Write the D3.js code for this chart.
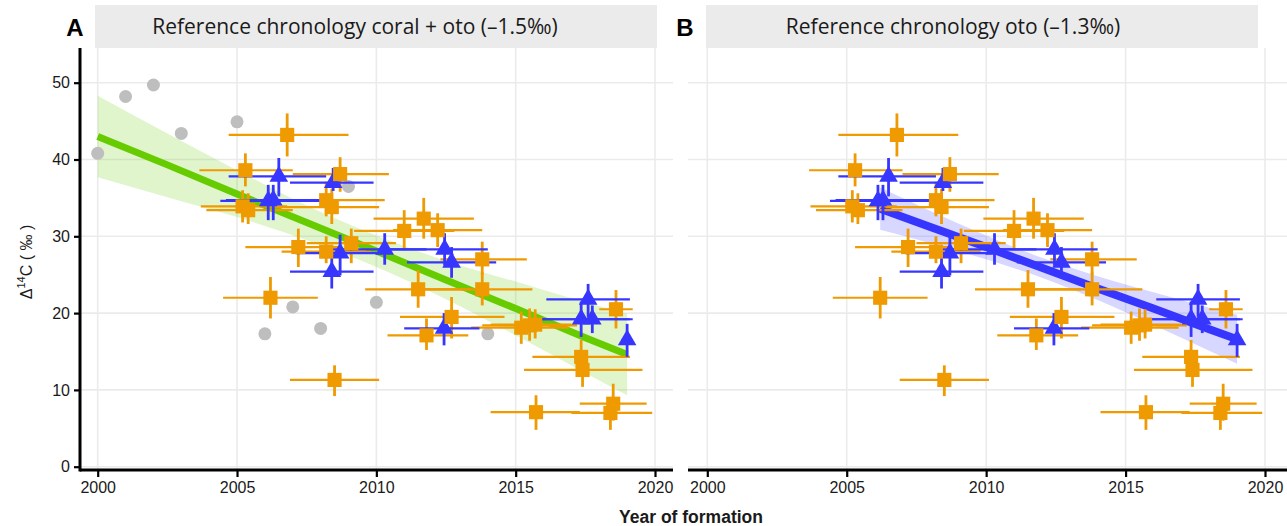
<!DOCTYPE html>
<html>
<head>
<meta charset="utf-8">
<script src="https://cdn.jsdelivr.net/npm/d3@7"></script>
<style>
  html, body { margin: 0; padding: 0; background: #fff; }
  svg { display: block; }
  .tick text { font-family: "Liberation Sans", Arial, sans-serif; font-size: 16px; fill: #1a1a1a; }
</style>
</head>
<body>
<svg id="chart" width="1287" height="526"></svg>
<script>
/*------------------- data --------------------*/
const xTicks = [2000, 2005, 2010, 2015, 2020];
const yTicks = [0, 10, 20, 30, 40, 50];
const panelTitles = ["Reference chronology coral + oto (\u20131.5\u2030)", "Reference chronology oto (\u20131.3\u2030)"];
const panelLetters = ["A", "B"];

// coral reference values (panel A only)
const coralYear = [2000, 2001, 2002, 2003, 2005, 2006, 2007, 2008, 2009, 2010, 2014];
const coralVal  = [40.8, 48.2, 49.7, 43.4, 44.9, 17.3, 20.8, 18.0, 36.5, 21.4, 17.3];

// otolith samples (orange squares)
const otoYear   = [2006.8, 2005.3, 2008.7, 2005.2, 2005.4, 2008.2, 2008.4, 2007.2, 2008.2, 2009.1, 2011.0, 2012.2, 2011.7, 2013.8, 2013.8, 2011.5, 2012.7, 2011.8, 2006.2, 2008.5, 2015.2, 2015.5, 2015.7, 2017.35, 2017.4, 2018.6, 2015.73, 2018.5, 2018.4];
const otoVal    = [43.2, 38.6, 38.1, 33.9, 33.4, 34.7, 33.8, 28.6, 28.0, 29.1, 30.7, 30.8, 32.3, 27.0, 23.1, 23.1, 19.5, 17.1, 22.0, 11.3, 18.1, 18.4, 18.5, 14.3, 12.6, 20.5, 7.1, 8.2, 7.0];
const otoYearLo = [2004.7, 2003.65, 2007.0, 2003.7, 2003.9, 2006.2, 2006.4, 2005.3, 2006.6, 2007.5, 2009.2, 2010.6, 2009.9, 2012.3, 2011.7, 2009.6, 2010.85, 2010.4, 2004.5, 2006.9, 2013.4, 2013.8, 2014.1, 2015.6, 2015.3, 2018.0, 2014.1, 2017.3, 2017.0];
const otoYearHi = [2009.0, 2007.0, 2010.45, 2006.8, 2007.0, 2010.3, 2010.1, 2008.7, 2009.8, 2010.7, 2012.8, 2013.8, 2013.5, 2015.4, 2015.6, 2013.4, 2014.6, 2013.3, 2007.9, 2010.1, 2016.9, 2017.2, 2017.0, 2019.1, 2019.55, 2019.2, 2017.3, 2019.7, 2019.9];
const otoValLo  = [40.4, 36.5, 35.8, 31.8, 31.6, 32.6, 31.6, 26.0, 26.5, 26.5, 28.2, 28.6, 29.7, 25.0, 21.0, 20.7, 16.7, 15.2, 19.3, 9.2, 16.0, 16.4, 16.7, 12.3, 10.4, 18.0, 4.8, 6.0, 4.8];
const otoValHi  = [46.0, 40.8, 40.3, 36.0, 35.6, 37.1, 36.2, 31.0, 30.0, 31.0, 33.4, 33.0, 35.0, 29.3, 25.3, 25.6, 22.1, 19.3, 24.7, 13.2, 20.2, 20.6, 20.5, 16.5, 14.8, 23.0, 9.3, 10.8, 9.0];

// otolith samples (blue triangles)
const triYear   = [2006.5, 2006.12, 2006.3, 2008.45, 2008.7, 2008.4, 2010.3, 2012.45, 2012.7, 2012.43, 2017.6, 2017.35, 2017.75, 2019.0];
const triVal    = [37.8, 34.6, 34.7, 37.0, 27.8, 25.4, 28.3, 28.3, 26.6, 18.0, 21.8, 19.2, 19.2, 16.5];
const triYearLo = [2004.7, 2004.4, 2004.6, 2006.9, 2007.1, 2006.9, 2008.0, 2010.4, 2011.1, 2011.0, 2016.1, 2015.6, 2015.9, 2018.8];
const triYearHi = [2008.2, 2008.0, 2008.2, 2009.9, 2010.2, 2009.9, 2011.8, 2014.0, 2014.3, 2013.7, 2019.1, 2019.1, 2019.2, 2019.2];
const triValLo  = [35.2, 32.1, 32.1, 35.9, 24.9, 23.2, 26.3, 26.2, 24.6, 15.8, 19.5, 16.9, 17.4, 14.3];
const triValHi  = [40.2, 36.7, 36.7, 38.9, 30.2, 27.3, 30.4, 30.4, 28.6, 20.0, 23.8, 21.5, 21.0, 18.6];

// fitted line + confidence band, panel A
const fitAYear = [2000, 2002.5, 2005, 2007.5, 2010, 2012.5, 2015, 2017.5, 2019];
const fitAVal  = [43.0, 39.3, 35.5, 31.8, 28.1, 24.3, 20.6, 16.8, 14.6];
const fitALo   = [37.7, 35.1, 32.5, 29.5, 26.0, 21.8, 17.1, 12.2, 9.3];
const fitAHi   = [48.3, 43.4, 38.6, 34.0, 30.1, 26.8, 24.1, 21.4, 19.9];

// fitted line + confidence band, panel B
const fitBYear = [2006.2, 2008, 2010, 2012, 2014, 2016, 2018, 2019];
const fitBVal  = [33.6, 31.2, 28.6, 25.9, 23.2, 20.6, 17.9, 16.6];
const fitBLo   = [30.85, 29.1, 27.0, 24.6, 21.7, 18.45, 15.1, 13.4];
const fitBHi   = [36.35, 33.3, 30.1, 27.2, 24.8, 22.7, 20.7, 19.8];

/*------------------- setup --------------------*/
const col_oto = "#EE9A00";
const col_tri = "#3636FF";
const col_coral = "#bebebe";
const col_green = "#66CC00";

const svg = d3.select("#chart");

const y = d3.scaleLinear().domain([0, 50]).range([466.7, 82.7]);

const panels = [
    {
        x: d3.scaleLinear().domain([2000, 2020]).range([97.7, 655]),
        left: 80, right: 673, stripL: 95, stripR: 657, titleX: 355, letterX: 75,
        coral: true, fit: [fitAYear, fitAVal, fitALo, fitAHi], fitCol: col_green, lw: 7, showY: true
    },
    {
        x: d3.scaleLinear().domain([2000, 2020]).range([707.3, 1265]),
        left: 688, right: 1287, stripL: 706, stripR: 1258, titleX: 953, letterX: 685,
        coral: false, fit: [fitBYear, fitBVal, fitBLo, fitBHi], fitCol: col_tri, lw: 8, showY: false
    }
];
const plotTop = 48, plotBottom = 470;

const oto = otoYear.map((d, i) => ({x: d, y: otoVal[i], x0: otoYearLo[i], x1: otoYearHi[i], y0: otoValLo[i], y1: otoValHi[i]}));
const tri = triYear.map((d, i) => ({x: d, y: triVal[i], x0: triYearLo[i], x1: triYearHi[i], y0: triValLo[i], y1: triValHi[i]}));

panels.forEach((p, pi) => {
    const x = p.x;
    const g = svg.append("g");

    // strip
    g.append("rect")
        .attr("x", p.stripL).attr("y", 5)
        .attr("width", p.stripR - p.stripL).attr("height", 43)
        .attr("fill", "#ebebeb");
    g.append("text")
        .attr("x", p.titleX).attr("y", 34)
        .attr("text-anchor", "middle")
        .style("font-family", "'Open Sans', 'Noto Sans', sans-serif")
        .style("font-size", "21px")
        .attr("fill", "#1a1a1a")
        .text(panelTitles[pi]);
    g.append("text")
        .attr("x", p.letterX).attr("y", 36)
        .attr("text-anchor", "middle")
        .style("font-family", "'Liberation Sans', Arial, sans-serif")
        .style("font-size", "24px")
        .style("font-weight", "bold")
        .text(panelLetters[pi]);

    // grid
    g.selectAll(".hgrid").data(yTicks).enter().append("line")
        .attr("x1", p.left).attr("x2", p.right)
        .attr("y1", d => y(d)).attr("y2", d => y(d))
        .attr("stroke", "#ebebeb").attr("stroke-width", 1.6);
    g.selectAll(".vgrid").data(xTicks).enter().append("line")
        .attr("x1", d => x(d)).attr("x2", d => x(d))
        .attr("y1", plotTop).attr("y2", plotBottom)
        .attr("stroke", "#ebebeb").attr("stroke-width", 1.6);

    // confidence band + fit line
    const [fy, fv, flo, fhi] = p.fit;
    const fitData = fy.map((d, i) => ({x: d, v: fv[i], lo: flo[i], hi: fhi[i]}));
    g.append("path")
        .datum(fitData)
        .attr("d", d3.area().curve(d3.curveMonotoneX)
            .x(d => x(d.x)).y0(d => y(d.lo)).y1(d => y(d.hi)))
        .attr("fill", p.fitCol).attr("fill-opacity", 0.2);
    g.append("path")
        .datum(fitData)
        .attr("d", d3.line().x(d => x(d.x)).y(d => y(d.v)))
        .attr("fill", "none").attr("stroke", p.fitCol).attr("stroke-width", p.lw);

    // coral points
    if (p.coral) {
        g.selectAll(".coral").data(coralYear).enter().append("circle")
            .attr("cx", d => x(d)).attr("cy", (d, i) => y(coralVal[i]))
            .attr("r", 6.5).attr("fill", col_coral);
    }

    // error bars
    [[oto, col_oto], [tri, col_tri]].forEach(([data, c]) => {
        g.selectAll(null).data(data).enter().append("line")
            .attr("x1", d => x(d.x0)).attr("x2", d => x(d.x1))
            .attr("y1", d => y(d.y)).attr("y2", d => y(d.y))
            .attr("stroke", c).attr("stroke-width", 2.2);
        g.selectAll(null).data(data).enter().append("line")
            .attr("x1", d => x(d.x)).attr("x2", d => x(d.x))
            .attr("y1", d => y(d.y0)).attr("y2", d => y(d.y1))
            .attr("stroke", c).attr("stroke-width", 2.8);
    });

    // points
    g.selectAll(null).data(tri).enter().append("path")
        .attr("d", d3.symbol(d3.symbolTriangle, 150))
        .attr("transform", d => `translate(${x(d.x)},${y(d.y)})`)
        .attr("fill", col_tri);
    g.selectAll(null).data(oto).enter().append("path")
        .attr("d", d3.symbol(d3.symbolSquare, 200))
        .attr("transform", d => `translate(${x(d.x)},${y(d.y)})`)
        .attr("fill", col_oto);

    // x axis
    const xa = g.append("g")
        .attr("transform", `translate(0,${plotBottom})`)
        .call(d3.axisBottom(x).tickValues(xTicks).tickSize(7).tickPadding(5).tickFormat(d3.format("d")));
    xa.select(".domain").remove();
    xa.selectAll(".tick line").attr("stroke", "#000").attr("stroke-width", 2.2);
    g.append("line")
        .attr("x1", p.left).attr("x2", p.right)
        .attr("y1", plotBottom).attr("y2", plotBottom)
        .attr("stroke", "#000").attr("stroke-width", 3);

    // y axis
    if (p.showY) {
        const ya = g.append("g")
            .attr("transform", `translate(${p.left},0)`)
            .call(d3.axisLeft(y).tickValues(yTicks).tickSize(6).tickPadding(4));
        ya.select(".domain").remove();
        ya.selectAll(".tick line").attr("stroke", "#000").attr("stroke-width", 2.2);
        g.append("line")
            .attr("x1", p.left).attr("x2", p.left)
            .attr("y1", plotTop).attr("y2", plotBottom + 1.5)
            .attr("stroke", "#000").attr("stroke-width", 3);
    }
});

// axis titles
svg.append("text")
    .attr("x", 691).attr("y", 523)
    .attr("text-anchor", "middle")
    .style("font-family", "'Liberation Sans', Arial, sans-serif")
    .style("font-size", "17.5px").style("font-weight", "bold")
    .attr("fill", "#1a1a1a")
    .text("Year of formation");

const yt = svg.append("text")
    .attr("transform", "translate(32,262) rotate(-90)")
    .attr("text-anchor", "middle")
    .style("font-family", "'Liberation Sans', Arial, sans-serif")
    .style("font-size", "16px")
    .attr("fill", "#1a1a1a");
yt.append("tspan").text("\u0394");
yt.append("tspan").attr("dy", -7).style("font-size", "11px").text("14");
yt.append("tspan").attr("dy", 7).text("C");
yt.append("tspan").text(" ( \u2030 )");
</script>
</body>
</html>
